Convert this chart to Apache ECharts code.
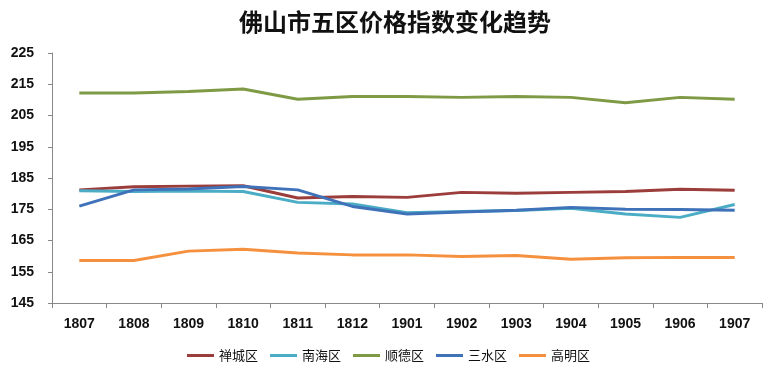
<!DOCTYPE html>
<html><head><meta charset="utf-8">
<script src="https://cdn.jsdelivr.net/npm/echarts@6/dist/echarts.min.js"></script>
<style>html,body{margin:0;padding:0;background:#fff}#c{width:768px;height:372px}</style>
</head><body><div id="c"></div>
<script>
const title = '佛山市五区价格指数变化趋势';
const categories = ['1807','1808','1809','1810','1811','1812','1901','1902','1903','1904','1905','1906','1907'];
const seriesNames = ['禅城区','南海区','顺德区','三水区','高明区'];
const chancheng = [181.2,182.2,182.4,182.5,178.6,179.1,178.8,180.4,180.1,180.4,180.7,181.4,181.1];
const nanhai    = [180.9,180.7,180.8,180.7,177.2,176.7,173.9,174.3,174.6,175.3,173.5,172.4,176.5];
const shunde    = [212.2,212.2,212.7,213.5,210.2,211.1,211.1,210.8,211.1,210.8,209.1,210.8,210.2];
const sanshui   = [176.0,181.2,181.5,182.3,181.2,175.9,173.5,174.1,174.7,175.6,175.0,174.9,174.7];
const gaoming   = [158.6,158.6,161.6,162.2,161.0,160.4,160.4,159.9,160.2,159.0,159.5,159.6,159.6];
const yTicks = {min:145, max:225, interval:10};

const colors = ['#9B3D3B','#4BACC6','#7E9A44','#3F72B8','#F5913E'];
const values = [chancheng, nanhai, shunde, sanshui, gaoming];

const chart = echarts.init(document.getElementById('c'));
chart.setOption({
  animation:false,
  title:{text:title,left:234,top:5,textStyle:{fontFamily:'Noto Sans CJK SC',fontSize:24,fontWeight:'bold',color:'#111'}},
  color:colors,
  grid:{left:52,right:6,top:53,bottom:69,containLabel:false},
  legend:{bottom:5,left:182,itemWidth:27,itemHeight:3,itemGap:12,icon:'rect',
    textStyle:{fontFamily:'Noto Sans CJK SC',fontSize:13,color:'#111'},data:seriesNames},
  xAxis:{type:'category',data:categories,boundaryGap:true,
    axisLine:{lineStyle:{color:'#888'}},
    axisTick:{show:true,length:5,lineStyle:{color:'#888'}},
    axisLabel:{fontFamily:'Liberation Sans',fontWeight:'bold',fontSize:14,color:'#111',margin:14}},
  yAxis:{type:'value',min:yTicks.min,max:yTicks.max,interval:yTicks.interval,
    axisLine:{show:true,lineStyle:{color:'#888'}},
    axisTick:{show:true,length:4,lineStyle:{color:'#888'}},
    splitLine:{show:false},
    axisLabel:{fontFamily:'Liberation Sans',fontWeight:'bold',fontSize:14,color:'#111',margin:18}},
  series:seriesNames.map((n,i)=>({name:n,type:'line',data:values[i],symbol:'none',
    lineStyle:{width:3,color:colors[i]},itemStyle:{color:colors[i]}}))
});
</script></body></html>
